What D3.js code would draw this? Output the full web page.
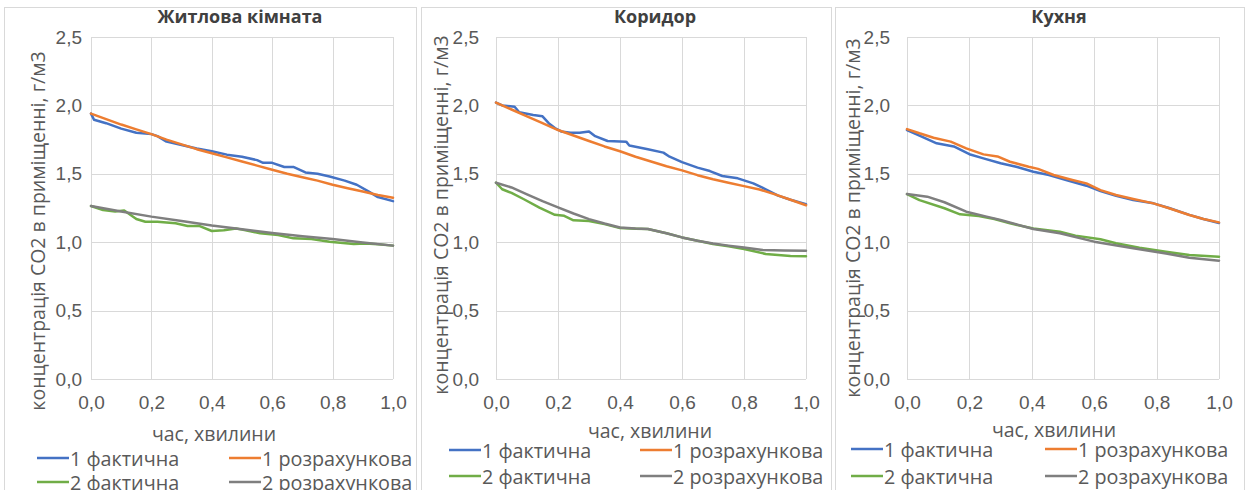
<!DOCTYPE html>
<html>
<head>
<meta charset="utf-8">
<script src="https://cdn.jsdelivr.net/npm/d3@7"></script>
<style>
  body { margin: 0; background: #fff; }
  svg { font-family: "Open Sans", sans-serif; }
  .grid line { stroke: #d9d9d9; stroke-width: 1; }
  .tick-label { fill: #595959; font-size: 19px; }
</style>
</head>
<body>
<svg id="chart"></svg>
<script>
// axis ticks
const xTicks = [0, 0.2, 0.4, 0.6, 0.8, 1.0];
const yTicks = [0, 0.5, 1.0, 1.5, 2.0, 2.5];

const seriesNames = ['1 фактична', '1 розрахункова', '2 фактична', '2 розрахункова'];
const seriesColors = ['#4472C4', '#ED7D31', '#70AD47', '#7F7F7F'];

// Житлова кімната  [час, концентрація]
const liv1Fact = [[0,1.94],[0.01,1.895],[0.05,1.87],[0.1,1.83],[0.15,1.80],[0.2,1.79],[0.22,1.775],[0.25,1.735],[0.3,1.71],[0.35,1.685],[0.4,1.665],[0.45,1.64],[0.5,1.625],[0.55,1.60],[0.57,1.58],[0.6,1.58],[0.64,1.55],[0.67,1.55],[0.71,1.51],[0.75,1.50],[0.79,1.48],[0.84,1.45],[0.88,1.42],[0.92,1.37],[0.95,1.33],[1.0,1.30]];
const liv1Calc = [[0,1.94],[0.05,1.90],[0.1,1.86],[0.15,1.825],[0.2,1.79],[0.25,1.75],[0.3,1.715],[0.35,1.68],[0.4,1.65],[0.45,1.62],[0.5,1.59],[0.55,1.56],[0.6,1.53],[0.65,1.50],[0.7,1.475],[0.75,1.45],[0.8,1.42],[0.85,1.395],[0.9,1.37],[0.95,1.345],[1.0,1.325]];
const liv2Fact = [[0,1.265],[0.04,1.235],[0.08,1.225],[0.11,1.232],[0.15,1.17],[0.18,1.15],[0.22,1.15],[0.28,1.138],[0.32,1.118],[0.36,1.118],[0.40,1.082],[0.44,1.088],[0.48,1.10],[0.5,1.092],[0.56,1.065],[0.62,1.053],[0.67,1.028],[0.73,1.023],[0.79,1.004],[0.87,0.987],[0.91,0.99],[0.95,0.985],[1.0,0.975]];
const liv2Calc = [[0,1.265],[0.1,1.225],[0.2,1.187],[0.3,1.155],[0.4,1.122],[0.5,1.094],[0.6,1.067],[0.7,1.044],[0.8,1.023],[0.9,0.998],[1.0,0.975]];

// Коридор
const cor1Fact = [[0,2.02],[0.02,2.0],[0.06,1.99],[0.075,1.95],[0.12,1.93],[0.15,1.92],[0.17,1.87],[0.19,1.835],[0.21,1.81],[0.24,1.80],[0.27,1.80],[0.30,1.81],[0.32,1.775],[0.36,1.74],[0.42,1.735],[0.43,1.707],[0.49,1.68],[0.54,1.655],[0.56,1.625],[0.60,1.585],[0.65,1.545],[0.69,1.52],[0.73,1.484],[0.78,1.467],[0.83,1.43],[0.87,1.387],[0.91,1.34],[0.95,1.31],[1.0,1.277]];
const cor1Calc = [[0,2.02],[0.05,1.97],[0.1,1.92],[0.15,1.87],[0.2,1.82],[0.25,1.78],[0.3,1.74],[0.35,1.70],[0.4,1.665],[0.45,1.625],[0.5,1.59],[0.55,1.555],[0.6,1.525],[0.65,1.49],[0.7,1.46],[0.75,1.435],[0.8,1.41],[0.85,1.385],[0.9,1.35],[0.95,1.31],[1.0,1.27]];
const cor2Fact = [[0,1.435],[0.02,1.387],[0.05,1.36],[0.09,1.314],[0.14,1.253],[0.19,1.20],[0.22,1.193],[0.25,1.16],[0.3,1.155],[0.35,1.132],[0.4,1.103],[0.45,1.098],[0.49,1.096],[0.55,1.065],[0.6,1.035],[0.65,1.01],[0.7,0.987],[0.75,0.97],[0.8,0.95],[0.87,0.914],[0.95,0.90],[1.0,0.897]];
const cor2Calc = [[0,1.435],[0.05,1.40],[0.1,1.35],[0.15,1.30],[0.2,1.255],[0.25,1.21],[0.3,1.169],[0.35,1.137],[0.4,1.108],[0.45,1.10],[0.49,1.096],[0.55,1.065],[0.6,1.035],[0.65,1.01],[0.7,0.99],[0.75,0.975],[0.8,0.962],[0.86,0.943],[0.93,0.94],[1.0,0.938]];

// Кухня
const kit1Fact = [[0,1.82],[0.04,1.779],[0.095,1.723],[0.15,1.70],[0.2,1.643],[0.245,1.613],[0.3,1.577],[0.35,1.552],[0.405,1.515],[0.455,1.491],[0.51,1.455],[0.575,1.413],[0.62,1.374],[0.67,1.34],[0.725,1.309],[0.79,1.284],[0.84,1.25],[0.905,1.20],[0.95,1.17],[1.0,1.14]];
const kit1Calc = [[0,1.827],[0.04,1.796],[0.085,1.764],[0.14,1.735],[0.19,1.686],[0.245,1.642],[0.29,1.627],[0.33,1.588],[0.39,1.552],[0.42,1.536],[0.47,1.491],[0.53,1.455],[0.575,1.43],[0.62,1.381],[0.67,1.345],[0.725,1.316],[0.79,1.284],[0.84,1.248],[0.905,1.199],[0.95,1.17],[1.0,1.145]];
const kit2Fact = [[0,1.352],[0.04,1.308],[0.12,1.248],[0.17,1.204],[0.23,1.192],[0.28,1.17],[0.33,1.138],[0.405,1.10],[0.49,1.077],[0.54,1.048],[0.62,1.021],[0.67,0.992],[0.745,0.96],[0.83,0.93],[0.905,0.906],[1.0,0.894]];
const kit2Calc = [[0,1.352],[0.065,1.333],[0.12,1.292],[0.19,1.223],[0.255,1.187],[0.30,1.162],[0.405,1.097],[0.49,1.065],[0.6,1.004],[0.725,0.955],[0.83,0.918],[0.905,0.887],[1.0,0.865]];

const fmt = d => d3.format('.1f')(d).replace('.', ',');

class RoomPanel {
    constructor(_config, _data) {
        this.config = _config;
        this.data = _data;
        this.initVis();
    }

    initVis() {
        let vis = this;
        const c = vis.config;

        vis.g = d3.select('#chart').append('g');

        // chart frame
        vis.g.append('rect')
            .attr('x', c.frame[0] + 0.5)
            .attr('y', 7.5)
            .attr('width', c.frame[1] - c.frame[0])
            .attr('height', 520)
            .attr('fill', 'none')
            .attr('stroke', '#d9d9d9');

        vis.xScale = d3.scaleLinear().domain([0, 1]).range([c.left, c.right]);
        vis.yScale = d3.scaleLinear().domain([0, 2.5]).range([379, 37]);

        // gridlines
        const grid = vis.g.append('g').attr('class', 'grid');
        grid.selectAll('.vg')
            .data(xTicks)
            .join('line')
            .attr('x1', d => Math.round(vis.xScale(d)) + 0.5)
            .attr('x2', d => Math.round(vis.xScale(d)) + 0.5)
            .attr('y1', vis.yScale(0))
            .attr('y2', vis.yScale(2.5));
        grid.selectAll('.hg')
            .data(yTicks)
            .join('line')
            .attr('y1', d => Math.round(vis.yScale(d)) + 0.5)
            .attr('y2', d => Math.round(vis.yScale(d)) + 0.5)
            .attr('x1', c.left)
            .attr('x2', c.right);

        // axes (labels only, Excel style)
        const xAxis = d3.axisBottom(vis.xScale).tickValues(xTicks).tickFormat(fmt).tickSize(0).tickPadding(17);
        const yAxis = d3.axisLeft(vis.yScale).tickValues(yTicks).tickFormat(fmt).tickSize(0).tickPadding(c.yPad);

        vis.g.append('g')
            .attr('transform', `translate(0,${vis.yScale(0)})`)
            .call(xAxis)
            .call(g => g.select('.domain').remove())
            .selectAll('text').attr('class', 'tick-label').attr('font-family', null).attr('font-size', null);

        vis.g.append('g')
            .attr('transform', `translate(${c.left},0)`)
            .call(yAxis)
            .call(g => g.select('.domain').remove())
            .selectAll('text').attr('class', 'tick-label').attr('font-family', null).attr('font-size', null);

        // title
        vis.g.append('text')
            .attr('x', c.titleX)
            .attr('y', 23)
            .attr('text-anchor', 'middle')
            .attr('font-size', '18px')
            .attr('font-weight', 'bold')
            .attr('fill', '#404040')
            .text(c.title);

        // axis titles
        vis.g.append('text')
            .attr('x', c.xTitle[0])
            .attr('y', c.xTitle[1])
            .attr('text-anchor', 'middle')
            .attr('dominant-baseline', 'central')
            .attr('font-size', '19.5px')
            .attr('fill', '#595959')
            .text('час, хвилини');

        vis.g.append('text')
            .attr('transform', `translate(${c.yTitle[0]},${c.yTitle[1]}) rotate(-90)`)
            .attr('text-anchor', 'middle')
            .attr('dominant-baseline', 'central')
            .attr('font-size', '19.5px')
            .attr('fill', '#595959')
            .text('концентрація СО2 в приміщенні, г/м3');

        vis.updateVis();
    }

    updateVis() {
        let vis = this;
        const c = vis.config;

        const line = d3.line()
            .x(d => vis.xScale(d[0]))
            .y(d => vis.yScale(d[1]));

        vis.g.selectAll('.series')
            .data(vis.data)
            .join('path')
            .attr('class', 'series')
            .attr('d', d => line(d))
            .attr('fill', 'none')
            .attr('stroke', (d, i) => seriesColors[i])
            .attr('stroke-width', 2.5)
            .attr('stroke-linejoin', 'round')
            .attr('stroke-linecap', 'round');

        // legend, two columns x two rows
        const leg = vis.g.selectAll('.legend')
            .data(seriesNames)
            .join('g')
            .attr('class', 'legend')
            .attr('transform', (d, i) => `translate(${c.legCols[i % 2]},${c.legRows[Math.floor(i / 2)]})`);

        leg.append('line')
            .attr('x1', 0).attr('x2', 32)
            .attr('stroke', (d, i) => seriesColors[i])
            .attr('stroke-width', 2.5);

        leg.append('text')
            .attr('x', 33)
            .attr('dominant-baseline', 'central')
            .attr('font-size', '19.8px')
            .attr('fill', '#595959')
            .text(d => d);
    }
}

d3.select('#chart').attr('width', 1248).attr('height', 490);

new RoomPanel({
    title: 'Житлова кімната', frame: [4, 416], left: 91, right: 393, yPad: 9,
    titleX: 240, xTitle: [214, 433], yTitle: [37, 231],
    legCols: [37, 229], legRows: [458, 482]
}, [liv1Fact, liv1Calc, liv2Fact, liv2Calc]);

new RoomPanel({
    title: 'Коридор', frame: [421, 831], left: 496, right: 806, yPad: 17,
    titleX: 655, xTitle: [650, 430], yTitle: [440, 215],
    legCols: [449, 640], legRows: [450, 476]
}, [cor1Fact, cor1Calc, cor2Fact, cor2Calc]);

new RoomPanel({
    title: 'Кухня', frame: [835, 1244], left: 907, right: 1219, yPad: 17,
    titleX: 1059, xTitle: [1054, 429], yTitle: [852, 218],
    legCols: [851, 1045], legRows: [449, 476]
}, [kit1Fact, kit1Calc, kit2Fact, kit2Calc]);
</script>
</body>
</html>
